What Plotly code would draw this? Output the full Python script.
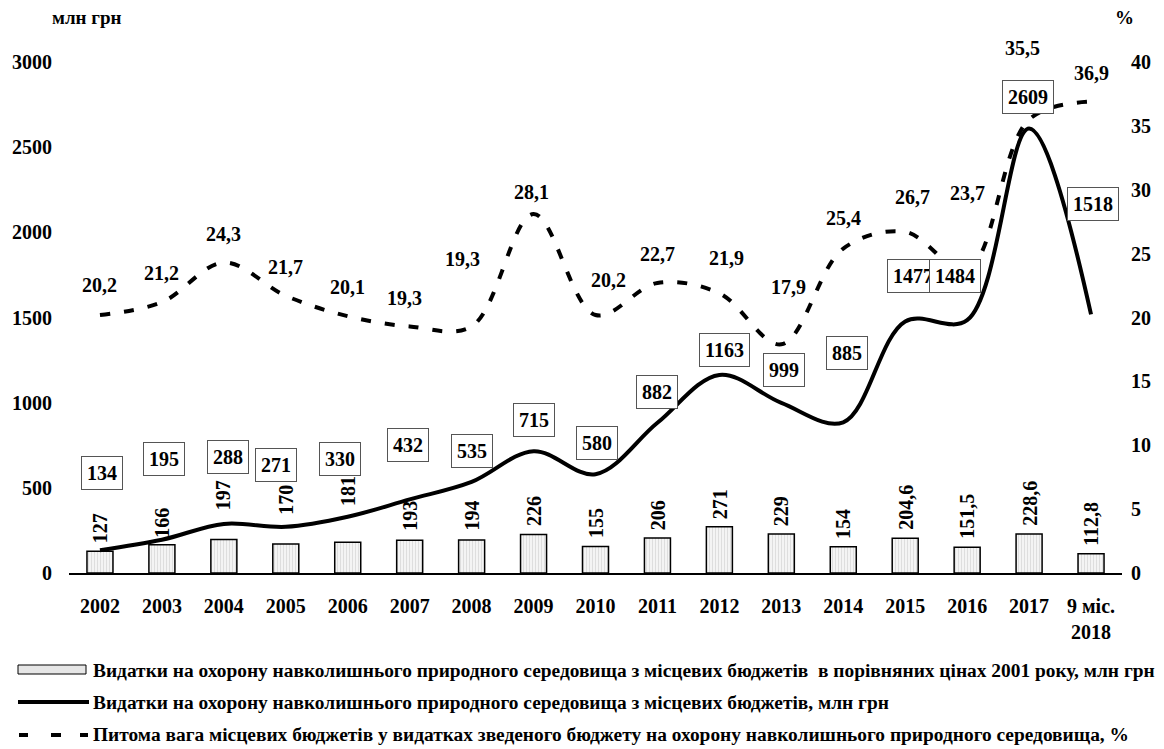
import plotly.graph_objects as go

categories = ["2002", "2003", "2004", "2005", "2006", "2007", "2008", "2009", "2010",
              "2011", "2012", "2013", "2014", "2015", "2016", "2017", "9 міс.<br>2018"]
bar_values = [127, 166, 197, 170, 181, 193, 194, 226, 155, 206, 271, 229, 154, 204.6, 151.5, 228.6, 112.8]
line_values = [134, 195, 288, 271, 330, 432, 535, 715, 580, 882, 1163, 999, 885, 1477, 1484, 2609, 1518]
share_values = [20.2, 21.2, 24.3, 21.7, 20.1, 19.3, 19.3, 28.1, 20.2, 22.7, 21.9, 17.9, 25.4, 26.7, 23.7, 35.5, 36.9]

left_ticks = [0, 500, 1000, 1500, 2000, 2500, 3000]
right_ticks = [0, 5, 10, 15, 20, 25, 30, 35, 40]

legend_names = [
    "Видатки на охорону навколишнього природного середовища з місцевих бюджетів  в порівняних цінах 2001 року, млн грн",
    "Видатки на охорону навколишнього природного середовища з місцевих бюджетів, млн грн",
    "Питома вага місцевих бюджетів у видатках зведеного бюджету на охорону навколишнього природного середовища, %",
]

# label placement offsets (pixels) -- styling only
box_dx = [2, 2, 4, -10, -8, -2, 0, 0, 1, 0, 5, 3, 4, 8, -12, -1, 2]
box_dy = [77, 81, 67, 62, 58, 54, 31, 31, 31, 31, 25, 33, 69, 45, 44, 32, 110]
pct_dx = [0, 0, 0, 0, 0, -5, -9, -2, 13, 0, 7, 7, 0, 7, 0, -7, 0]
pct_dy = [30, 29, 29, 29, 29, 28, 67, 22, 35, 29, 35, 57, 31, 35, 77, 71, 29]
bar_dy = [6, 5, 27, 27, 34, 7, 7, 6, 6, 6, 6, 6, 6, 6, 6, 6, 6]

FONT = "Liberation Serif"
fs = 20

def fmt(v):
    s = ("%g" % v)
    return s.replace(".", ",")

fig = go.Figure()

fig.add_trace(go.Bar(
    x=categories, y=bar_values, name=legend_names[0],
    marker=dict(color="#eeeeee", line=dict(color="black", width=1.5),
                pattern=dict(shape="|", fgcolor="#c4c4c4", bgcolor="#f4f4f4", size=3, solidity=0.3)),
    showlegend=False,
))

fig.add_trace(go.Scatter(
    x=categories, y=line_values, name=legend_names[1], mode="lines",
    line=dict(color="black", width=4, shape="spline", smoothing=1.0),
    showlegend=False,
))

fig.add_trace(go.Scatter(
    x=categories, y=share_values, name=legend_names[2], mode="lines", yaxis="y2",
    line=dict(color="black", width=4, shape="spline", smoothing=1.0, dash="10px,14px"),
    showlegend=False,
))

annotations = []
for i, c in enumerate(categories):
    annotations.append(dict(
        x=i, y=bar_values[i], xref="x", yref="y", text="<b>%s</b>" % fmt(bar_values[i]),
        showarrow=False, textangle=-90, yshift=bar_dy[i],
        xanchor="center", yanchor="bottom",
        font=dict(family=FONT, size=fs, color="black"),
    ))
    annotations.append(dict(
        x=i, y=line_values[i], xref="x", yref="y", text="<b>%s</b>" % line_values[i],
        showarrow=False, xshift=box_dx[i], yshift=box_dy[i],
        xanchor="center", yanchor="middle",
        font=dict(family=FONT, size=fs, color="black"),
        bordercolor="#555555", borderwidth=1, borderpad=5, bgcolor="white",
    ))
    annotations.append(dict(
        x=i, y=share_values[i], xref="x", yref="y2", text="<b>%s</b>" % fmt(share_values[i]),
        showarrow=False, xshift=pct_dx[i], yshift=pct_dy[i],
        xanchor="center", yanchor="middle",
        font=dict(family=FONT, size=fs, color="black"),
    ))

# plot area pixel geometry for manual legend / unit labels
L, R, T, B = 69, 1122, 62, 573
def px(x):
    return (x - L) / (R - L)
def py(y):
    return (B - y) / (B - T)

annotations.append(dict(x=px(86), y=py(17), xref="paper", yref="paper", text="<b>млн грн</b>",
                        xanchor="center", yanchor="middle",
                        showarrow=False, font=dict(family=FONT, size=19, color="black")))
annotations.append(dict(x=px(1124), y=py(17), xref="paper", yref="paper", text="<b>%</b>",
                        xanchor="center", yanchor="middle",
                        showarrow=False, font=dict(family=FONT, size=19, color="black")))

leg_y = [670, 702, 735]
for name, yy in zip(legend_names, leg_y):
    annotations.append(dict(x=px(91), y=py(yy), xref="paper", yref="paper", text="<b>%s</b>" % name,
                            xanchor="left", yanchor="middle", showarrow=False,
                            font=dict(family=FONT, size=19.4, color="black")))

shapes = [
    dict(type="rect", xref="paper", yref="paper", x0=px(18), x1=px(86), y0=py(674), y1=py(665),
         line=dict(color="black", width=1), fillcolor="#e6e6e6"),
    dict(type="line", xref="paper", yref="paper", x0=px(18), x1=px(89), y0=py(702), y1=py(702),
         line=dict(color="black", width=4)),
]
for a, b in [(19, 28), (51, 61), (80, 88)]:
    shapes.append(dict(type="line", xref="paper", yref="paper", x0=px(a), x1=px(b), y0=py(735), y1=py(735),
                       line=dict(color="black", width=4)))

fig.update_layout(
    width=1164, height=749,
    margin=dict(l=L, r=1164 - R, t=T, b=749 - B),
    paper_bgcolor="white", plot_bgcolor="white",
    bargap=0.58,
    font=dict(family=FONT, size=fs, color="black"),
    xaxis=dict(type="category", range=[-0.5, 16.5], showline=True, linecolor="black", linewidth=1.5,
               ticks="", showgrid=False, tickfont=dict(family=FONT, size=fs, weight="bold"),
               ticklabelstandoff=14),
    yaxis=dict(range=[0, 3000], tickvals=left_ticks, showgrid=False, zeroline=False,
               showline=False, ticks="", tickfont=dict(family=FONT, size=fs, weight="bold"),
               ticklabelstandoff=16),
    yaxis2=dict(range=[0, 40], tickvals=right_ticks, overlaying="y", side="right",
                showgrid=False, zeroline=False, showline=False, ticks="",
                tickfont=dict(family=FONT, size=fs, weight="bold"), ticklabelstandoff=8),
    annotations=annotations,
    shapes=shapes,
    showlegend=False,
)

fig.write_html("out.html")
